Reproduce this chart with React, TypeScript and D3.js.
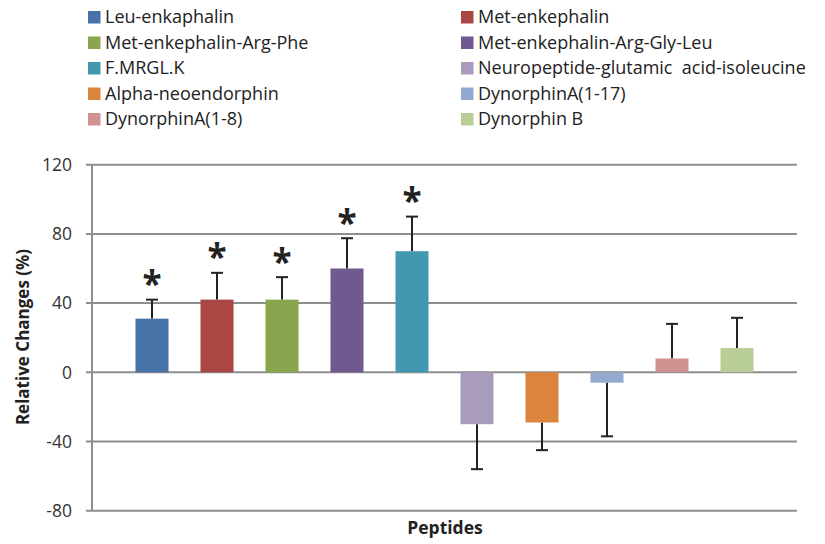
import React from "react";
import * as d3 from "d3";

const peptides = [
  "Leu-enkaphalin",
  "Met-enkephalin",
  "Met-enkephalin-Arg-Phe",
  "Met-enkephalin-Arg-Gly-Leu",
  "F.MRGL.K",
  "Neuropeptide-glutamic  acid-isoleucine",
  "Alpha-neoendorphin",
  "DynorphinA(1-17)",
  "DynorphinA(1-8)",
  "Dynorphin B",
];
const values = [31, 42, 42, 60, 70, -30, -29, -6, 8, 14];
const errors = [11, 15.5, 13, 17.5, 20, 26, 16, 31, 20, 17.5];
const significant = [true, true, true, true, true, false, false, false, false, false];
const colors = [
  "#4672A8", "#AA4643", "#89A54E", "#71588F", "#4198AF",
  "#A99BBD", "#DB843D", "#93A9CF", "#D19392", "#B9CD96",
];
const yTicks = [-80, -40, 0, 40, 80, 120];

const W = 825, H = 544;
const left = 92, right = 797, top = 164.7, bottom = 510.7;
const FONT = "'Open Sans', 'Liberation Sans', sans-serif";

export default function App() {
  const y = d3.scaleLinear().domain([-80, 120]).range([bottom, top]);
  const x = d3.scaleBand<string>().domain(peptides).range([left, right]).paddingInner(0.492).paddingOuter(0.669);
  const bw = x.bandwidth();
  return (
    <svg width={W} height={H} style={{ position: "absolute", left: 0, top: 0, background: "#fff" }}>
      {/* legend */}
      {peptides.map((p, i) => {
        const col = i % 2;
        const row = Math.floor(i / 2);
        const lx = col === 0 ? 88 : 461;
        const ly = 17 + row * 25.5;
        return (
          <g key={p}>
            <rect x={lx} y={ly - 6} width={12.5} height={12.5} fill={colors[i]} />
            <text x={lx + 17} y={ly} dy="0.36em" fontFamily={FONT} fontSize={18} fill="#222" style={{ whiteSpace: "pre" }}>
              {p}
            </text>
          </g>
        );
      })}
      {/* gridlines */}
      {yTicks.map((t) => (
        <g key={t}>
          <line x1={86} x2={right} y1={y(t)} y2={y(t)} stroke="#8e8e8e" strokeWidth={2} />
          <text x={72} y={y(t)} dy="0.36em" textAnchor="end" fontFamily={FONT} fontSize={17.5} fill="#333">
            {t}
          </text>
        </g>
      ))}
      <line x1={left} x2={left} y1={top} y2={bottom} stroke="#8e8e8e" strokeWidth={2} />
      {/* bars */}
      {peptides.map((p, i) => {
        const v = values[i];
        const x0 = x(p)!;
        const cx = x0 + bw / 2;
        const yv = y(v);
        const y0 = y(0);
        const ye = y(v + (v >= 0 ? errors[i] : -errors[i]));
        return (
          <g key={p}>
            <line x1={cx} x2={cx} y1={yv} y2={ye} stroke="#222" strokeWidth={2} />
            <line x1={cx - 6} x2={cx + 6} y1={ye} y2={ye} stroke="#222" strokeWidth={2} />
            <rect x={x0} y={Math.min(yv, y0)} width={bw} height={Math.abs(yv - y0)} fill={colors[i]} />
            {significant[i] && (
              <text x={cx} y={ye - 3.5} textAnchor="middle" fontFamily={FONT} fontWeight="bold" fontSize={35} fill="#222">
                *
              </text>
            )}
          </g>
        );
      })}
      {/* axis titles */}
      <text x={445} y={534} textAnchor="middle" fontFamily={FONT} fontWeight="bold" fontSize={17.5} fill="#222">
        Peptides
      </text>
      <text transform={`translate(29,337) rotate(-90)`} textAnchor="middle" fontFamily={FONT} fontWeight="bold" fontSize={17} fill="#222">
        Relative Changes (%)
      </text>
    </svg>
  );
}
